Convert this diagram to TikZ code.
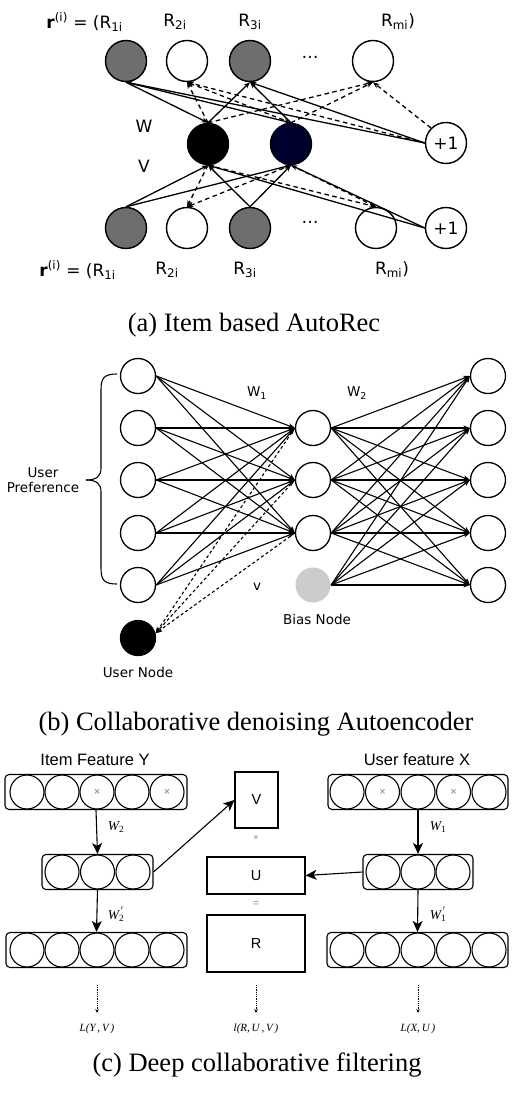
\documentclass[tikz,border=0pt]{standalone}
\usepackage{fontspec}
\setmainfont{Liberation Serif}
\newfontfamily\dvs{DejaVu Sans}
\newfontfamily\ars{Liberation Sans}
\usetikzlibrary{arrows.meta}
\definecolor{obsgray}{RGB}{110,110,110}
\definecolor{navyfill}{RGB}{0,0,48}
\definecolor{biasgray}{RGB}{204,204,204}
\begin{document}
\begin{tikzpicture}[x=1pt,y=-1pt,
  an/.style={circle,draw,line width=1.4pt,minimum size=41pt,inner sep=0pt,fill=white,
     font=\dvs\fontsize{17}{20}\selectfont},
  gr/.style={an,fill=obsgray},
  ae/.style={line width=1.3pt,-{Stealth[length=6.5pt,width=5pt]}},
  ad/.style={ae,dash pattern=on 4.5pt off 3.5pt},
  ta/.style={font=\dvs\fontsize{17}{20}\selectfont,inner sep=0pt},
  bn/.style={circle,draw,line width=1.3pt,minimum size=35pt,inner sep=0pt,fill=white},
  be/.style={line width=1.1pt,-{Stealth[length=6.5pt,width=5pt]}},
  bd/.style={be,dash pattern=on 3pt off 2.5pt},
  tb/.style={font=\dvs\fontsize{13.5}{16}\selectfont,inner sep=0pt},
  cbar/.style={draw,rounded corners=4pt,line width=1.1pt,minimum height=35pt,inner sep=0pt},
  cc/.style={circle,draw,line width=1.1pt,minimum size=34pt,inner sep=0pt},
  cbox/.style={draw,line width=1.1pt,inner sep=0pt,font=\ars\fontsize{14.5}{16}\selectfont},
  ce/.style={line width=1.1pt,-{Stealth[length=11pt,width=10pt,inset=3pt]}},
  dt/.style={densely dotted,line width=0.8pt,-{Stealth[length=4pt,width=3.5pt]}},
  tm/.style={font=\fontsize{13.5}{15}\selectfont\itshape,inner sep=0pt},
  tl/.style={font=\fontsize{11}{13}\selectfont\itshape,inner sep=0pt},
  captxt/.style={font=\fontsize{26.5}{30}\selectfont,inner sep=0pt},
  xm/.style={font=\ars\fontsize{11}{12}\selectfont,text=gray}
]
\useasboundingbox (0,0) rectangle (516,1095);
\fill[white] (0,0) rectangle (516,1095);

% ---------------- (a) ----------------
\node[gr] (o1) at (126,61) {};
\node[an] (o2) at (187,61) {};
\node[gr] (o3) at (250,61) {};
\node[ta] (od) at (310,57) {\dots};
\node[an] (o4) at (373,61) {};
\node[an] (b1) at (446,143) {+1};
\node[an,fill=black] (h1) at (208,144) {};
\node[an,fill=navyfill] (h2) at (291,144) {};
\node[gr] (i1) at (126,228) {};
\node[an] (i2) at (187,228) {};
\node[gr] (i3) at (250,228) {};
\node[ta] (id) at (310,222) {\dots};
\node[an] (i4) at (376,228) {};
\node[an] (b2) at (446,228) {+1};

\node[ta,anchor=east] (lt0) at (123,22) {\textbf{r}\textsuperscript{(i)} = (R\textsubscript{1i}};
\node[ta] (lt2) at (175,22) {R\textsubscript{2i}};
\node[ta] (lt3) at (250,22) {R\textsubscript{3i}};
\node[ta] (lt4) at (398,22) {R\textsubscript{mi})};
\node[ta,anchor=east] (lb0) at (116,270) {\textbf{r}\textsuperscript{(i)} = (R\textsubscript{1i}};
\node[ta] (lb2) at (167,270) {R\textsubscript{2i}};
\node[ta] (lb3) at (245,270) {R\textsubscript{3i}};
\node[ta] (lb4) at (392,270) {R\textsubscript{mi})};
\node[ta] (lw) at (144,126) {W};
\node[ta] (lv) at (144,166) {V};

% top layer
\draw[ae] (o1.south) -- (h1.north);
\draw[ae] (o1.south) -- (h2.north);
\draw[ae] (h1.north) -- (o3.south);
\draw[ae] (h2.north) -- (o3.south);
\draw[ae] (b1.west) -- (o1.south);
\draw[ae] (b1.west) -- (o3.south);
\draw[ad] (h1.north) -- (o2.south);
\draw[ad] (h1.north) -- (o4.south);
\draw[ad] (h2.north) -- (o2.south);
\draw[ad] (h2.north) -- (o4.south);
\draw[ad] (b1.west) -- (o2.south);
\draw[ad] (b1.north west) -- (o4.south);
% bottom layer
\draw[ae] (i1.north) -- (h1.south);
\draw[ae] (i1.north) -- (h2.south);
\draw[ae] (i3.north) -- (h1.south);
\draw[ae] (i3.north) -- (h2.south);
\draw[ae] (b2.west) -- (h1.south);
\draw[ae] (b2.west) -- (h2.south);
\draw[ad] (h1.south) -- (i2.north);
\draw[ad] (h2.south) -- (i2.north);
\draw[ad] (h1.south) -- (i4.north);
\draw[ad] (h2.south) -- (i4.north);

\node[captxt] (capa) at (254,325) {(a) Item based AutoRec};

% ---------------- (b) ----------------
\foreach \n/\y in {1/376,2/428,3/480,4/533,5/585}{
  \node[bn] (u\n) at (138,\y) {};
  \node[bn] (r\n) at (488,\y) {};
}
\foreach \n/\y in {1/428,2/480,3/533}{
  \node[bn] (m\n) at (313,\y) {};
}
\node[bn,draw=none,fill=biasgray] (bias) at (313,585) {};
\node[bn,fill=black] (user) at (138,638) {};

\foreach \a in {1,...,5}{
  \foreach \b in {1,2,3}{
    \draw[be] (u\a.east) -- (m\b.west);
  }
}
\foreach \b in {1,2,3}{
  \foreach \a in {1,...,5}{
    \draw[be] (m\b.east) -- (r\a.west);
  }
  \draw[bd] (m\b.west) -- (user.15);
}
\foreach \a in {1,...,5}{
  \draw[be] (bias.east) -- (r\a.west);
}

\node[tb] (w1) at (257,393) {W\textsubscript{1}};
\node[tb] (w2) at (357,393) {W\textsubscript{2}};
\node[tb] (vb) at (257,587) {v};
\node[tb] (biasl) at (317,619) {Bias Node};
\node[tb] (userl) at (138,672) {User Node};
\node[tb,align=center] (pref) at (43,480) {User\\[-1pt]Preference};
\draw[line width=1.1pt] (117,374) .. controls (104,374) and (101,378) .. (101,390) -- (101,468)
   .. controls (101,476) and (97,480) .. (86,480);
\draw[line width=1.1pt] (117,584) .. controls (104,584) and (101,580) .. (101,568) -- (101,492)
   .. controls (101,484) and (97,480) .. (86,480);

\node[captxt] (capb) at (256,724) {(b) Collaborative denoising Autoencoder};

% ---------------- (c) ----------------
\node[font=\ars\fontsize{16.5}{18}\selectfont,inner sep=0pt] (ity) at (95,760) {Item Feature Y};
\node[font=\ars\fontsize{16.5}{18}\selectfont,inner sep=0pt] (ufx) at (417,760) {User feature X};

\node[cbar,minimum width=182pt] (yt) at (96,792) {};
\foreach \x/\n in {27/1,62/2,132/4}{ \node[cc] (yt\n) at (\x,792) {}; }
\node[cc,xm] (yt3) at (97,792) {×};
\node[cc,xm] (yt5) at (167,792) {×};

\node[cbar,minimum width=111pt] (ym) at (97.5,872) {};
\foreach \x/\n in {62/1,97.5/2,133/3}{ \node[cc] (ym\n) at (\x,872) {}; }

\node[cbar,minimum width=181pt] (yb) at (96.5,950) {};
\foreach \x/\n in {27/1,62/2,97/3,132/4,167/5}{ \node[cc] (yb\n) at (\x,950) {}; }

\node[cbar,minimum width=180pt] (xt) at (418,792) {};
\foreach \x/\n in {347/1,418/3,489/5}{ \node[cc] (xt\n) at (\x,792) {}; }
\node[cc,xm] (xt2) at (382.5,792) {×};
\node[cc,xm] (xt4) at (453.5,792) {×};

\node[cbar,minimum width=110pt] (xmid) at (418,872) {};
\foreach \x/\n in {383/1,418/2,453/3}{ \node[cc] (xm\n) at (\x,872) {}; }

\node[cbar,minimum width=181pt] (xb) at (417.5,950) {};
\foreach \x/\n in {347/1,382.5/2,418/3,453.5/4,489/5}{ \node[cc] (xb\n) at (\x,950) {}; }

\node[cbox,minimum width=43pt,minimum height=56pt] (V) at (256.5,800) {V};
\node[cbox,minimum width=98pt,minimum height=37pt] (U) at (256,875.5) {U};
\node[cbox,minimum width=98pt,minimum height=57pt] (R) at (256,943.5) {R};
\node[xm,font=\ars\fontsize{9}{10}\selectfont] (times) at (256,838) {×};
\node[xm,font=\ars\fontsize{10}{10}\selectfont] (eq) at (256,904) {=};

\draw[ce] (yt.south) -- (ym.north);
\draw[ce] (ym.south) -- (yb.north);
\draw[ce] (xt.south) -- (xmid.north);
\draw[ce] (xmid.south) -- (xb.north);
\draw[ce] (ym.east) -- (V.west);
\draw[ce] (xmid.west) -- (U.east);

\node[tm] (lw2) at (116,827) {W\textsubscript{\upshape 2}};
\node[tm] (lw2p) at (116,914) {W\rlap{\textsuperscript{\upshape\,$'$}}\textsubscript{\upshape 2}};
\node[tm] (lw1) at (438,827) {W\textsubscript{\upshape 1}};
\node[tm] (lw1p) at (438,914) {W\rlap{\textsuperscript{\upshape\,$'$}}\textsubscript{\upshape 1}};

\coordinate (d1s) at (97,985);  \coordinate (d1e) at (97,1013);
\coordinate (d2s) at (256,985); \coordinate (d2e) at (256,1013);
\coordinate (d3s) at (418,985); \coordinate (d3e) at (418,1013);
\draw[dt] (d1s) -- (d1e);
\draw[dt] (d2s) -- (d2e);
\draw[dt] (d3s) -- (d3e);
\node[tl] (L1) at (97,1029) {L(Y\,,\,V\,)};
\node[tl] (L2) at (256,1029) {l(R,\,U\,,\,V\,)};
\node[tl] (L3) at (418,1029) {L(X,\,U\,)};

\node[captxt] (capc) at (257,1065) {(c) Deep collaborative filtering};
\end{tikzpicture}
\end{document}
